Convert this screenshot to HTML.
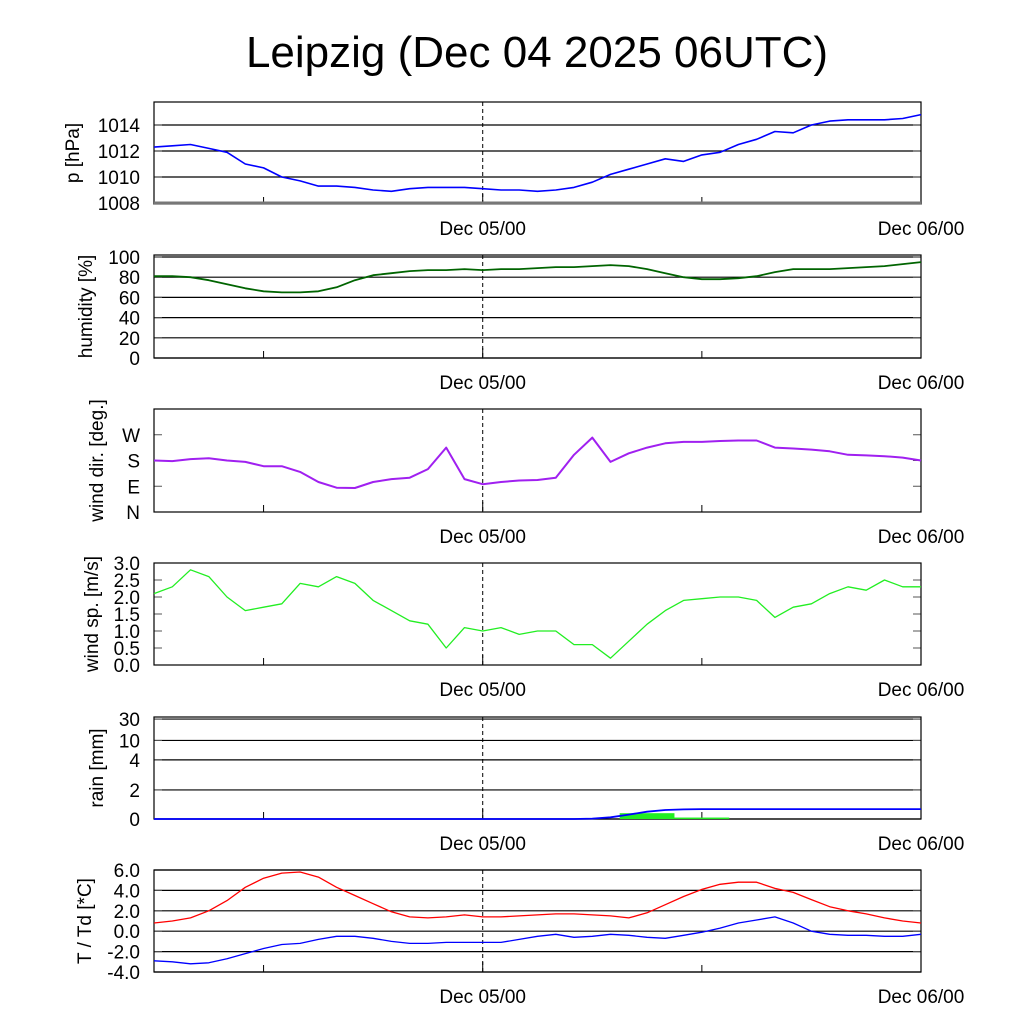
<!DOCTYPE html>
<html><head><meta charset="utf-8"><style>
body{margin:0;background:#fff}
svg{display:block;font-family:"Liberation Sans",sans-serif}
</style></head><body>
<svg id="c" width="1024" height="1024" xmlns="http://www.w3.org/2000/svg">
<text x="537" y="67" font-size="44" text-anchor="middle">Leipzig (Dec 04 2025 06UTC)</text>
</svg>
<script>
const hours = [0,1,2,3,4,5,6,7,8,9,10,11,12,13,14,15,16,17,18,19,20,21,22,23,24,25,26,27,28,29,30,31,32,33,34,35,36,37,38,39,40,41,42];
const pressure = [1012.3,1012.4,1012.5,1012.2,1011.9,1011.0,1010.7,1010.0,1009.7,1009.3,1009.3,1009.2,1009.0,1008.9,1009.1,1009.2,1009.2,1009.2,1009.1,1009.0,1009.0,1008.9,1009.0,1009.2,1009.6,1010.2,1010.6,1011.0,1011.4,1011.2,1011.7,1011.9,1012.5,1012.9,1013.5,1013.4,1014.0,1014.3,1014.4,1014.4,1014.4,1014.5,1014.8];
const humidity = [81,81,80,77,73,69,66,65,65,66,70,77,82,84,86,87,87,88,87,88,88,89,90,90,91,92,91,88,84,80,78,78,79,81,85,88,88,88,89,90,91,93,95];
const windDir = [180,178,185,188,180,175,160,160,140,105,85,84,105,115,120,150,225,115,97,105,110,112,120,200,260,175,205,225,240,245,245,248,250,250,225,222,218,212,200,198,195,190,180];
const windSpeed = [2.1,2.3,2.8,2.6,2.0,1.6,1.7,1.8,2.4,2.3,2.6,2.4,1.9,1.6,1.3,1.2,0.5,1.1,1.0,1.1,0.9,1.0,1.0,0.6,0.6,0.2,0.7,1.2,1.6,1.9,1.95,2.0,2.0,1.9,1.4,1.7,1.8,2.1,2.3,2.2,2.5,2.3,2.3];
const rainCum = [0,0,0,0,0,0,0,0,0,0,0,0,0,0,0,0,0,0,0,0,0,0,0,0,0.03,0.12,0.3,0.5,0.62,0.66,0.68,0.68,0.68,0.68,0.68,0.68,0.68,0.68,0.68,0.68,0.68,0.68,0.68];
const rainBarStart = [25.5,28.5];
const rainBarEnd = [28.5,31.5];
const rainBarVal = [0.4,0.1];
const temp = [0.8,1.0,1.3,2.0,3.0,4.3,5.2,5.7,5.8,5.3,4.3,3.5,2.7,1.9,1.4,1.3,1.4,1.6,1.4,1.4,1.5,1.6,1.7,1.7,1.6,1.5,1.3,1.8,2.6,3.4,4.1,4.6,4.8,4.8,4.2,3.8,3.1,2.4,2.0,1.7,1.3,1.0,0.8];
const dewpoint = [-2.9,-3.0,-3.2,-3.1,-2.7,-2.2,-1.7,-1.3,-1.2,-0.8,-0.5,-0.5,-0.7,-1.0,-1.2,-1.2,-1.1,-1.1,-1.1,-1.1,-0.8,-0.5,-0.3,-0.6,-0.5,-0.3,-0.4,-0.6,-0.7,-0.4,-0.1,0.3,0.8,1.1,1.4,0.8,0.0,-0.3,-0.4,-0.4,-0.5,-0.5,-0.3];
const pTicks = [1008,1010,1012,1014];
const hTicks = [0,20,40,60,80,100];
const dirTicks = [0,90,180,270];
const dirLabels = ["N","E","S","W"];
const wsTicks = [0,0.5,1.0,1.5,2.0,2.5,3.0];
const rainTicks = [0,2,4,10,30];
const tTicks = [-4,-2,0,2,4,6];
const xLabels = ["Dec 05/00","Dec 06/00"];
const xLabelHours = [18,42];

const svg = document.getElementById('c');
const NS = 'http://www.w3.org/2000/svg';
const X0=154, X1=921, H=42;
const xs = h => X0 + (h/H)*(X1-X0);
function el(tag, attrs, parent){const e=document.createElementNS(NS,tag);for(const k in attrs)e.setAttribute(k,attrs[k]);(parent||svg).appendChild(e);return e;}

function panel(name, top, bot, ymap, ticks, labels, grid, title, tx0){
  const g = el('g',{});
  
  
  ticks.forEach((t,i)=>{
    const y = ymap(t);
    if(grid){const l=el('line',{x1:X0,x2:X1,y1:y,y2:y,stroke:'#000','stroke-width':1.2},g);
      
      }
    const tx=el('text',{x:X0-14,y:y+7,'font-size':19,'text-anchor':'end'},g);
    tx.textContent = labels ? labels[i] : t;
    
    
    el('line',{x1:X0,x2:X0+8,y1:y,y2:y,stroke:'#555'},g);
    el('line',{x1:X1-8,x2:X1,y1:y,y2:y,stroke:'#555'},g);
  });
  el('line',{x1:xs(18),x2:xs(18),y1:top,y2:bot,stroke:'#000','stroke-dasharray':'4,3'},g);
  [6,30].forEach(h=>el('line',{x1:xs(h),x2:xs(h),y1:bot-7,y2:bot,stroke:'#000'},g));
  el('line',{x1:xs(18),x2:xs(18),y1:bot-10,y2:bot,stroke:'#000'},g);
  const r=el('rect',{x:X0,y:top,width:X1-X0,height:bot-top,fill:'none',stroke:'#000','stroke-width':1.2},g);
  
  
  xLabels.forEach((s,i)=>{const t=el('text',{x:xs(xLabelHours[i]),y:bot+31,'font-size':19,'text-anchor':'middle'},g);t.textContent=s;
    
    });
  const cy=(top+bot)/2;
  const at=el('text',{x:0,y:0,'font-size':19,'text-anchor':'middle',transform:`translate(${tx0},${cy}) rotate(-90)`},g);
  at.textContent=title;
  
  
  return g;
}
function line(g,name,vals,ymap,color,w){
  const d = vals.map((v,i)=>(i?'L':'M')+xs(hours[i]).toFixed(1)+','+ymap(v).toFixed(1)).join(' ');
  const p=el('path',{d:d,fill:'none',stroke:color,'stroke-width':w||1.4,'stroke-linejoin':'round'},g);
  
  
}
const yP = v => 203 - (v-1008)*13;
let g = panel('pressure',102,204,yP,pTicks,null,true,'p [hPa]',79);
el('line',{x1:X0,x2:X1,y1:203,y2:203,stroke:'#777','stroke-width':3},g);
line(g,'pressure-line',pressure,yP,'#0000ff',1.6);
const yH = v => 358 - v*1.01;
g = panel('humidity',255,358,yH,hTicks,null,true,'humidity [%]',92);
line(g,'humidity-line',humidity,yH,'#006400',1.8);
const yD = v => 512 - v*(103/360);
g = panel('wind-dir',409,512,yD,dirTicks,dirLabels,false,'wind dir. [deg.]',103);
line(g,'wind-dir-line',windDir,yD,'#a020f0',2);
const yW = v => 665 - v*34;
g = panel('wind-speed',563,665,yW,wsTicks,wsTicks.map(v=>v.toFixed(1)),false,'wind sp. [m/s]',98);
line(g,'wind-speed-line',windSpeed,yW,'#22ee22',1.3);
const rainFrac = [0,0.285,0.58,0.77,0.98];
const yR = v => {for(let i=1;i<rainTicks.length;i++){if(v<=rainTicks[i]){const f=rainFrac[i-1]+(v-rainTicks[i-1])/(rainTicks[i]-rainTicks[i-1])*(rainFrac[i]-rainFrac[i-1]);return 819-f*102;}}return 717;};
g = panel('rain',717,819,yR,rainTicks,null,true,'rain [mm]',103);
rainBarVal.forEach((v,i)=>{const r=el('rect',{x:xs(rainBarStart[i]),y:yR(v),width:xs(rainBarEnd[i])-xs(rainBarStart[i]),height:819-yR(v),fill:'#22ee22'},g);
  
  });
line(g,'rain-cumulative-line',rainCum,yR,'#0000ff',1.8);
const yT = v => 972 - (v+4)*10.2;
g = panel('temperature',870,972,yT,tTicks,tTicks.map(v=>v.toFixed(1)),true,'T / Td [*C]',91);
line(g,'temperature-line',temp,yT,'#ff0000',1.3);
line(g,'dewpoint-line',dewpoint,yT,'#0000ff',1.3);
</script>
</body></html>
